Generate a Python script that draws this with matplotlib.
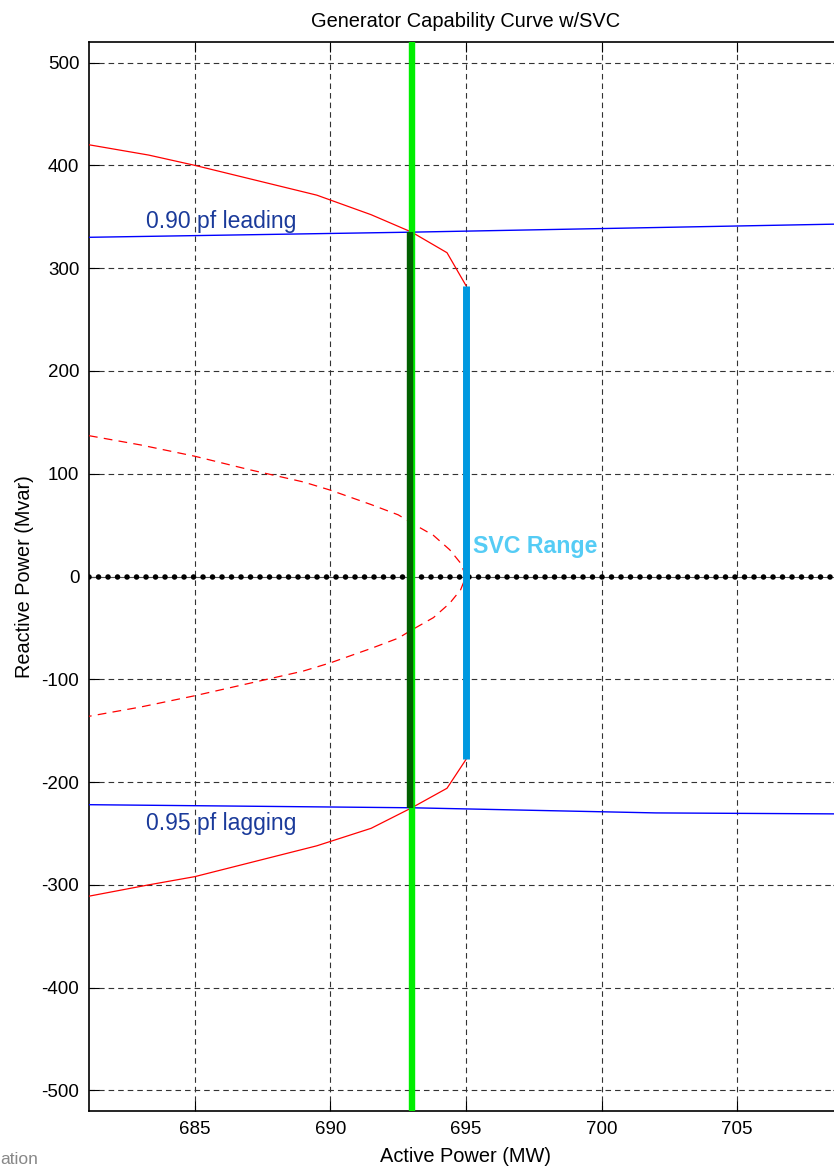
# Generator capability curve with SVC range

import numpy as np
import matplotlib.pyplot as plt

plt.rcParams['font.family'] = ['Liberation Sans', 'DejaVu Sans']
plt.rcParams['axes.unicode_minus'] = False

# generator capability limits (MW, Mvar)
cap_p_upper = [681.1, 683.3, 685.0, 689.5, 691.5, 693.0, 694.3, 695.0]
cap_q_upper = [420, 410, 400, 371, 352, 335, 315, 283]
cap_p_lower = [681.1, 683.3, 685.0, 689.5, 691.5, 693.0, 694.3, 695.0]
cap_q_lower = [-311, -300, -292, -262, -245, -225, -206, -178]

# SVC limit curve (dashed)
svc_p = [681.1, 683.0, 685.0, 687.0, 689.0, 690.0, 691.5, 692.5, 693.0, 693.8,
         694.4, 694.8, 695.0, 694.8, 694.4, 693.8, 693.0, 692.5, 691.5, 690.0,
         689.0, 687.0, 685.0, 683.0, 681.1]
svc_q = [137, 128, 117, 104, 92, 84, 70, 60, 52, 40, 26, 13, 0, -13, -26, -40,
         -52, -60, -70, -84, -92, -104, -116, -127, -136]

# power factor lines
pf_lead_p = [681.1, 693.0, 709.0]
pf_lead_q = [330, 335, 343]
pf_lag_p = [681.1, 693.0, 702.0, 709.0]
pf_lag_q = [-222, -225, -230, -231]

# operating point and ranges
p_gen = 693.0
gen_q_range = [335, -225]
p_svc = 695.0
svc_q_range = [283, -178]

x_lim = [681.1, 708.9]
y_lim = [-520, 520]
x_ticks = [685, 690, 695, 700, 705]
y_ticks = [-500, -400, -300, -200, -100, 0, 100, 200, 300, 400, 500]

fig = plt.figure(figsize=(8.34, 11.67), dpi=100)
ax = fig.add_axes([89 / 834, 1 - 1111 / 1167, (843 - 89) / 834, (1111 - 42) / 1167])

ax.set_xlim(x_lim)
ax.set_ylim(y_lim)
ax.set_xticks(x_ticks)
ax.set_yticks(y_ticks)
ax.tick_params(direction='in', length=7, width=0.8, labelsize=13.5,
               top=True, right=True, pad=7)
ax.grid(True, color='#333333', linestyle=(0, (5, 3.6)), linewidth=0.8)
ax.set_axisbelow(True)
for s in ax.spines.values():
    s.set_linewidth(1.2)

# zero line with dots
ax.plot(x_lim, [0, 0], color='#555555', lw=0.7, zorder=2)
ax.plot(x_lim, [0, 0], color='black', lw=4.0,
        linestyle=(0, (0.01, 1.7)), dash_capstyle='round', zorder=2)

ax.plot(svc_p, svc_q, color='red', lw=0.9, linestyle=(0, (7, 5)), zorder=3)
ax.plot(cap_p_upper, cap_q_upper, color='red', lw=0.9, zorder=3)
ax.plot(cap_p_lower, cap_q_lower, color='red', lw=0.9, zorder=3)

ax.plot(pf_lead_p, pf_lead_q, color='blue', lw=1.0, zorder=3)
ax.plot(pf_lag_p, pf_lag_q, color='blue', lw=1.0, zorder=3)

ax.axvline(p_gen, color='#00ee00', lw=4.6, zorder=4)
ax.plot([p_gen - 0.05, p_gen - 0.05], gen_q_range, color='#006000', lw=4.6,
        solid_capstyle='butt', zorder=5)
ax.plot([p_svc, p_svc], svc_q_range, color='#0099e0', lw=5.0,
        solid_capstyle='butt', zorder=5)

ax.text(683.2, 339, '0.90 pf leading', color='#1a3a9a', fontsize=16.5,
        va='baseline', zorder=6)
ax.text(683.2, -247, '0.95 pf lagging', color='#1a3a9a', fontsize=16.5,
        va='baseline', zorder=6)
ax.text(695.25, 29, 'SVC Range', color='#55ccf5', fontsize=16.7,
        fontweight='bold', va='center', zorder=6)

ax.set_title('Generator Capability Curve w/SVC', fontsize=14.4, pad=11)
ax.set_xlabel('Active Power (MW)', fontsize=14.4, labelpad=7)
ax.set_ylabel('Reactive Power (Mvar)', fontsize=14.3, labelpad=5)

fig.text(0.0, 1 - 1160 / 1167, 'ation', color='#888888', fontsize=12.5,
         ha='left', va='center')

fig.savefig('out.png', dpi=100)
print('created plot out.png')
